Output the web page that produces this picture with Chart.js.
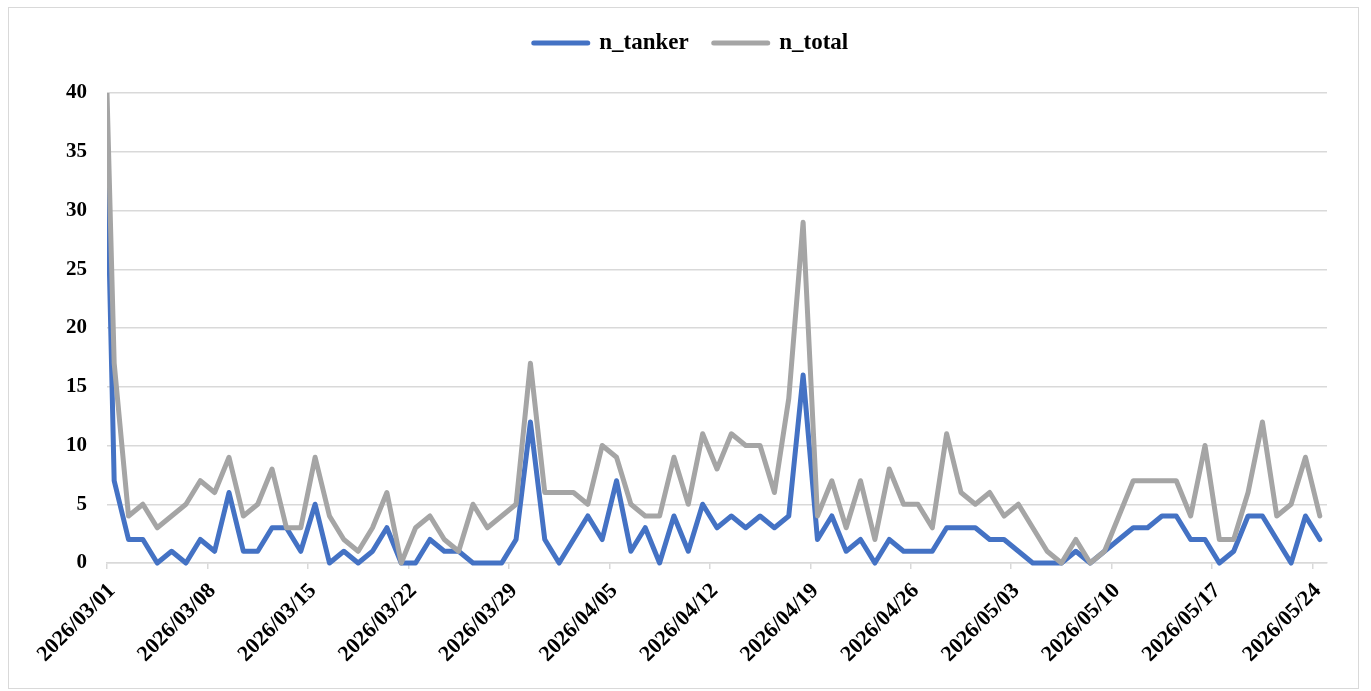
<!DOCTYPE html>
<html>
<head>
<meta charset="utf-8">
<script src="https://cdn.jsdelivr.net/npm/chart.js@4.4.1/dist/chart.umd.min.js"></script>
<style>
  html, body { margin: 0; padding: 0; background: #ffffff; }
  #wrap { width: 1371px; height: 691px; }
</style>
</head>
<body>
<div id="wrap"><canvas id="chart" width="1371" height="691"></canvas></div>
<script>
// Daily counts, 2026/03/01 .. 2026/05/24 (one value per day)
const startDate = '2026-03-01';
const dayCount = 85;
const tickEveryDays = 7;
const yTickValues = [0, 5, 10, 15, 20, 25, 30, 35, 40];

const nTanker = [
  7, 2, 2, 0, 1, 0, 2, 1, 6, 1, 1, 3, 3, 1, 5, 0, 1, 0, 1, 3, 0,
  0, 2, 1, 1, 0, 0, 0, 2, 12, 2, 0, 2, 4, 2, 7, 1, 3, 0, 4, 1,
  5, 3, 4, 3, 4, 3, 4, 16, 2, 4, 1, 2, 0, 2, 1, 1, 1, 3, 3, 3,
  2, 2, 1, 0, 0, 0, 1, 0, 1, 2, 3, 3, 4, 4, 2, 2, 0, 1, 4, 4,
  2, 0, 4, 2
];
const nTotal = [
  17, 4, 5, 3, 4, 5, 7, 6, 9, 4, 5, 8, 3, 3, 9, 4, 2, 1, 3, 6, 0,
  3, 4, 2, 1, 5, 3, 4, 5, 17, 6, 6, 6, 5, 10, 9, 5, 4, 4, 9, 5,
  11, 8, 11, 10, 10, 6, 14, 29, 4, 7, 3, 7, 2, 8, 5, 5, 3, 11, 6, 5,
  6, 4, 5, 3, 1, 0, 2, 0, 1, 4, 7, 7, 7, 7, 4, 10, 2, 2, 6, 12,
  4, 5, 9, 4
];
// Values where both lines enter the plot at the start of 2026/03/01
const edgeTanker = 34;
const edgeTotal = 40;

const seriesNames = ['n_tanker', 'n_total'];
const seriesColors = ['#4472C4', '#A5A5A5'];

const FONT = '"Liberation Serif", "Times New Roman", serif';

function dayLabel(offset) {
  const d = new Date(startDate + 'T00:00:00Z');
  d.setUTCDate(d.getUTCDate() + offset);
  const mm = String(d.getUTCMonth() + 1).padStart(2, '0');
  const dd = String(d.getUTCDate()).padStart(2, '0');
  return d.getUTCFullYear() + '/' + mm + '/' + dd;
}

// each day is plotted at the middle of its one-day slot
function toPoints(values, edge) {
  const pts = [{ x: 0, y: edge }];
  values.forEach((v, i) => pts.push({ x: i + 0.5, y: v }));
  return pts;
}

const frame = {
  id: 'frame',
  beforeDraw(chart) {
    const ctx = chart.ctx;
    ctx.save();
    ctx.fillStyle = '#ffffff';
    ctx.fillRect(0, 0, chart.width, chart.height);
    ctx.strokeStyle = '#d9d9d9';
    ctx.lineWidth = 1;
    ctx.strokeRect(8.5, 7.5, 1350, 681);
    ctx.restore();
  }
};

const lineStyle = {
  borderWidth: 5,
  pointRadius: 0,
  pointHoverRadius: 0,
  tension: 0,
  borderJoinStyle: 'round',
  borderCapStyle: 'round',
  fill: false,
  clip: { left: 0, top: 0, right: 6, bottom: 6 }
};

new Chart(document.getElementById('chart'), {
  type: 'line',
  data: {
    datasets: [
      Object.assign({
        label: seriesNames[0],
        data: toPoints(nTanker, edgeTanker),
        borderColor: seriesColors[0],
        backgroundColor: seriesColors[0],
        order: 1
      }, lineStyle),
      Object.assign({
        label: seriesNames[1],
        data: toPoints(nTotal, edgeTotal),
        borderColor: seriesColors[1],
        backgroundColor: seriesColors[1],
        order: 0
      }, lineStyle)
    ]
  },
  options: {
    responsive: false,
    animation: false,
    devicePixelRatio: 1,
    events: [],
    layout: { padding: { left: 55, right: 44, top: 6.5, bottom: 0 } },
    plugins: {
      tooltip: { enabled: false },
      legend: {
        position: 'top',
        align: 'center',
        labels: {
          usePointStyle: true,
          pointStyleWidth: 54,
          padding: 25,
          color: '#000000',
          font: { family: FONT, size: 23, weight: 'bold' },
          generateLabels(chart) {
            return chart.data.datasets.map((ds, i) => ({
              text: ds.label,
              fillStyle: ds.borderColor,
              strokeStyle: ds.borderColor,
              lineWidth: 5,
              lineCap: 'round',
              pointStyle: 'line',
              hidden: false,
              datasetIndex: i
            }));
          }
        }
      },
      title: {
        display: true,
        text: '',
        weight: 500,
        font: { size: 10, lineHeight: 1.2 },
        padding: { top: 0, bottom: 16.5 }
      }
    },
    scales: {
      x: {
        type: 'linear',
        min: 0,
        max: dayCount,
        afterBuildTicks(scale) {
          const t = [];
          for (let d = 0; d < dayCount; d += tickEveryDays) t.push({ value: d });
          scale.ticks = t;
        },
        afterFit(scale) { scale.height = 128; },
        grid: {
          drawOnChartArea: false,
          drawTicks: true,
          tickLength: 6,
          color: '#d9d9d9',
          lineWidth: 1.5
        },
        border: { display: true, color: '#d9d9d9', width: 1.5 },
        ticks: {
          autoSkip: false,
          maxRotation: 45,
          minRotation: 45,
          padding: 9,
          labelOffset: 5,
          color: '#000000',
          font: { family: FONT, size: 22, weight: 'bold' },
          callback: (v) => dayLabel(v)
        }
      },
      y: {
        min: 0,
        max: 40,
        afterBuildTicks(scale) {
          scale.ticks = yTickValues.map(v => ({ value: v }));
        },
        afterFit(scale) { scale.width = 52; },
        grid: {
          drawTicks: false,
          color: '#d9d9d9',
          lineWidth: 1.5
        },
        border: { display: false },
        ticks: {
          padding: 20,
          color: '#000000',
          font: { family: FONT, size: 21, weight: 'bold' }
        }
      }
    }
  },
  plugins: [frame]
});
</script>
</body>
</html>
